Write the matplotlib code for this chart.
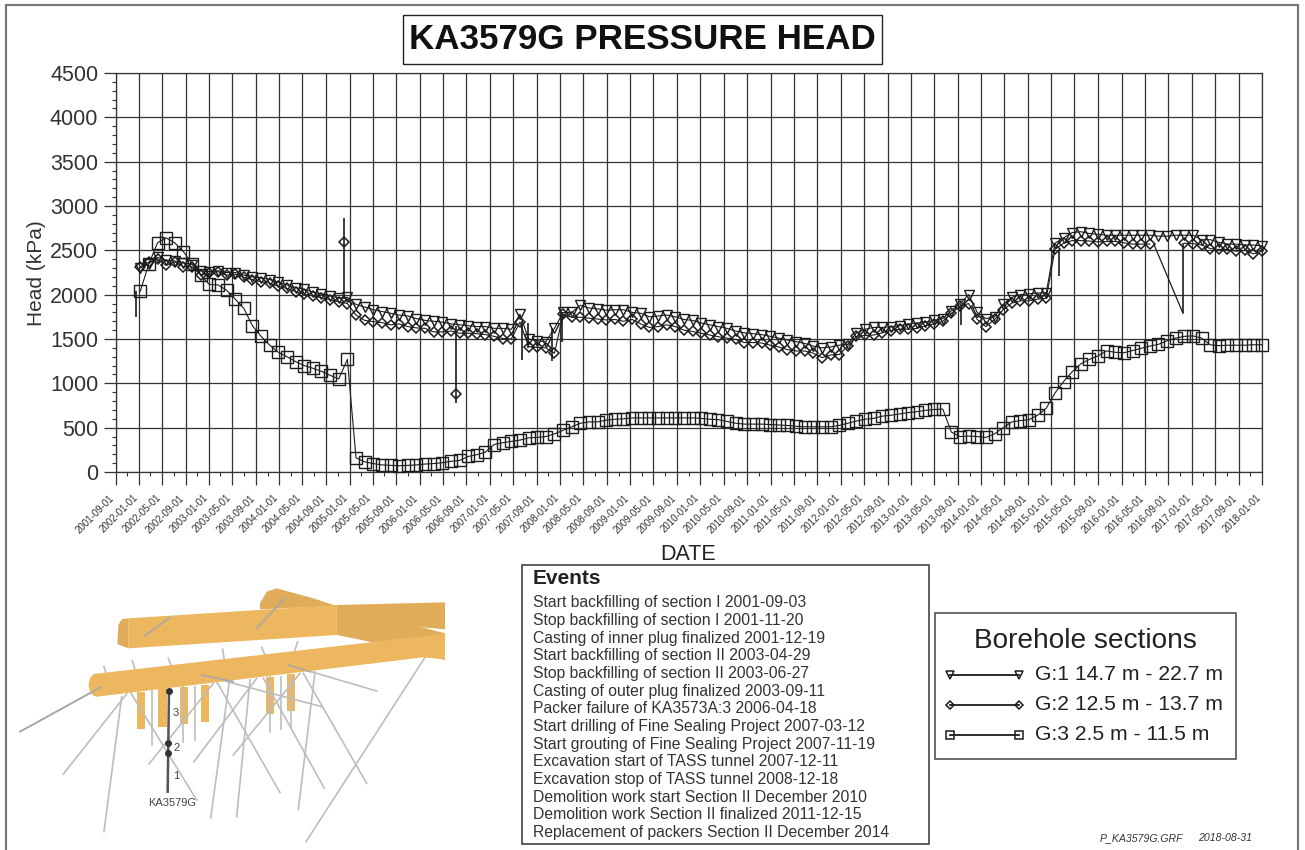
import matplotlib
matplotlib.use("Agg")
import matplotlib.pyplot as plt
from matplotlib.patches import Polygon, Rectangle, Ellipse
from matplotlib.ticker import MultipleLocator, NullFormatter
import matplotlib.dates as mdates
import numpy as np
import pandas as pd

plt.rcParams['font.family'] = ['Liberation Sans', 'DejaVu Sans']

# readings, one value per sample date
g1_values = [
    2300, 2350, 2420, 2390, 2380, 2360, 2340, 2270, 2260, 2270,
    2250, 2250, 2220, 2200, 2190, 2170, 2140, 2110, 2080, 2060,
    2030, 2010, 1990, 1960, 1970, 1890, 1860, 1830, 1810, 1790,
    1770, 1760, 1730, 1710, 1700, 1690, 1670, 1660, 1650, 1640,
    1640, 1620, 1620, 1610, 1780, 1500, 1480, 1470, 1620, 1800,
    1800, 1880, 1850, 1840, 1825, 1830, 1830, 1800, 1790, 1750,
    1760, 1770, 1750, 1720, 1710, 1680, 1660, 1640, 1620, 1590,
    1570, 1560, 1550, 1530, 1510, 1490, 1470, 1450, 1420, 1400,
    1410, 1430, 1440, 1570, 1610, 1630, 1630, 1640, 1650, 1670,
    1680, 1690, 1710, 1730, 1820, 1900, 2000, 1800, 1730, 1750,
    1890, 1970, 2000, 2010, 2020, 2020, 2580, 2640, 2700, 2710,
    2690, 2680, 2670, 2670, 2670, 2670, 2670, 2670, 2660, 2660,
    2670, 2670, 2670, 2620, 2620, 2590, 2570, 2570, 2560, 2560,
    2550,
]
g2_values = [
    2315, 2370, 2400, 2330, 2370, 2315, 2315, 2225, 2240, 2260,
    2220, 2230, 2195, 2170, 2145, 2130, 2095, 2070, 2035, 2005,
    1985, 1965, 1945, 1920, 1900, 1770, 1710, 1695, 1685, 1660,
    1670, 1640, 1625, 1620, 1580, 1580, 1590, 1565, 1565, 1560,
    1550, 1530, 1505, 1500, 1690, 1415, 1405, 1400, 1340, 1780,
    1745, 1745, 1735, 1725, 1715, 1720, 1700, 1720, 1670, 1630,
    1640, 1660, 1640, 1600, 1585, 1565, 1545, 1525, 1510, 1495,
    1460, 1460, 1455, 1430, 1410, 1380, 1365, 1365, 1340, 1290,
    1320, 1325, 1420, 1530, 1540, 1545, 1570, 1595, 1610, 1610,
    1620, 1650, 1670, 1700, 1790, 1870, 1900, 1720, 1640, 1720,
    1830, 1905, 1930, 1930, 1950, 1960, 2510, 2580, 2610, 2610,
    2605, 2595, 2600, 2600, 2585, 2570, 2570, 2570, np.nan, np.nan,
    np.nan, 2580, 2575, 2560, 2520, 2510, 2510, 2490, 2500, 2460,
    2490,
]
g3_values = [
    2040, 2350, 2585, 2640, 2585, 2485, 2350, 2220, 2115, 2110,
    2050, 1950, 1845, 1650, 1530, 1430, 1350, 1300, 1245, 1200,
    1170, 1135, 1090, 1050, 1270, 160, 115, 95, 80, 75,
    70, 75, 80, 90, 95, 105, 120, 130, 175, 195,
    225, 310, 330, 345, 360, 385, 390, 400, 430, 470,
    510, 550, 565, 565, 585, 595, 600, 610, 610, 610,
    610, 610, 610, 610, 610, 605, 595, 590, 570, 550,
    540, 540, 540, 535, 530, 525, 515, 510, 510, 510,
    510, 525, 550, 575, 595, 605, 630, 640, 655, 670,
    680, 695, 705, 710, 450, 400, 405, 400, 390, 430,
    500, 565, 580, 590, 640, 720, 890, 1020, 1130, 1220,
    1270, 1310, 1365, 1350, 1345, 1370, 1395, 1420, 1440, 1480,
    1510, 1530, 1535, 1510, 1435, 1425, 1430, 1430, 1430, 1435,
    1435,
]
sample_dates = pd.date_range('2002-01-08', '2018-01-01', periods=len(g1_values))

# short excursions between the samples: date, from, to
spike_dates = ['2001-12-17', '2004-12-04', '2006-07-10', '2007-06-18', '2007-07-19',
               '2007-11-21', '2008-01-12', '2013-09-20', '2015-02-08', '2016-11-16']
spike_low = [1750, 1950, 780, 1260, 1400, 1250, 1470, 1655, 2210, 1790]
spike_high = [2040, 2865, 1650, 1700, 1680, 1620, 1800, 1900, 2500, 2580]

g2_extra_dates = ['2004-12-04', '2006-07-10']
g2_extra_values = [2590, 875]
dip_dates = ['2016-06-17', '2016-11-16']
dip_values = [2570, 1790]

events = [
    'Start backfilling of section I 2001-09-03',
    'Stop backfilling of section I 2001-11-20',
    'Casting of inner plug finalized 2001-12-19',
    'Start backfilling of section II 2003-04-29',
    'Stop backfilling of section II 2003-06-27',
    'Casting of outer plug finalized 2003-09-11',
    'Packer failure of KA3573A:3 2006-04-18',
    'Start drilling of Fine Sealing Project 2007-03-12',
    'Start grouting of Fine Sealing Project 2007-11-19',
    'Excavation start of TASS tunnel 2007-12-11',
    'Excavation stop of TASS tunnel 2008-12-18',
    'Demolition work start Section II December 2010',
    'Demolition work Section II finalized 2011-12-15',
    'Replacement of packers Section II December 2014',
]
legend_labels = ['G:1 14.7 m - 22.7 m', 'G:2 12.5 m - 13.7 m', 'G:3 2.5 m - 11.5 m']
y_ticks = list(range(0, 5000, 500))
x_ticks = pd.date_range('2001-09-01', '2018-01-01', freq='4MS')

W, H = 1305, 850
fig = plt.figure(figsize=(W / 100, H / 100), dpi=100)
ax = fig.add_axes([115.5 / W, (H - 472) / H, (1262 - 115.5) / W, 399 / H])

line_col = '#1c1c1c'
ax.vlines(pd.to_datetime(spike_dates), spike_low, spike_high, color=line_col, lw=1.2, zorder=3)
ax.plot(pd.to_datetime(dip_dates), dip_values, color=line_col, lw=0.9, zorder=3)
ax.plot(sample_dates, g1_values, color=line_col, lw=0.8, marker='v', ms=6.5, mfc='none',
        mec=line_col, mew=1.0, clip_on=False, zorder=4)
ax.plot(sample_dates, g2_values, color=line_col, lw=0.8, marker='D', ms=5.3, mfc='none',
        mec=line_col, mew=1.1, clip_on=False, zorder=4)
ax.plot(pd.to_datetime(g2_extra_dates), g2_extra_values, ls='none', marker='D', ms=5.3, mfc='none',
        mec=line_col, mew=1.1, zorder=4)
ax.plot(sample_dates, g3_values, color=line_col, lw=0.8, marker='s', ms=8.3, mfc='none',
        mec=line_col, mew=1.0, clip_on=False, zorder=4)

ax.set_xlim(pd.Timestamp('2001-09-01'), pd.Timestamp('2018-01-01'))
ax.set_ylim(0, 4500)
ax.set_xticks(x_ticks)
ax.xaxis.set_major_formatter(NullFormatter())
# slanted date labels end a little left of and below their ticks
for d in x_ticks:
    ax.annotate(d.strftime('%Y-%m-%d'), xy=(d, 0), xycoords=('data', 'axes fraction'),
                xytext=(-4.5, -15), textcoords='offset points', rotation=45, ha='right', va='top',
                rotation_mode='anchor', fontsize=7, color='#333333', annotation_clip=False)
ax.xaxis.set_minor_locator(mdates.MonthLocator(bymonth=[3, 7, 11]))
ax.set_yticks(y_ticks)
ax.yaxis.set_minor_locator(MultipleLocator(100))
ax.tick_params(axis='y', labelsize=15.5, labelcolor='#333333', length=8.5, width=0.9, color='#333333', pad=4)
ax.tick_params(axis='x', length=9.5, width=0.9, color='#333333', pad=1)
ax.tick_params(which='minor', length=3, width=0.8, color='#333333')
ax.grid(True, color='#333333', lw=0.9)
ax.set_axisbelow(True)
for s in ax.spines.values():
    s.set_color('#333333')
    s.set_linewidth(0.9)

# page furniture drawn in pixel coordinates
ov = fig.add_axes([0, 0, 1, 1], facecolor='none')
ov.set_xlim(0, W)
ov.set_ylim(H, 0)
ov.axis('off')

ov.plot([6, 6, 1298, 1298], [H, 5, 5, H], color='#777777', lw=1.6)

ov.add_patch(Rectangle((403, 15), 479, 49, fc='white', ec='#222222', lw=1))
ov.text(642.5, 39, 'KA3579G PRESSURE HEAD', fontsize=25.2, fontweight='bold', ha='center', va='center', color='#111111')
ov.text(36, 273, 'Head (kPa)', fontsize=15, rotation=90, ha='center', va='center', color='#333333')
ov.text(688, 554, 'DATE', fontsize=15.5, ha='center', va='center', color='#222222')

# events box
ov.add_patch(Rectangle((522, 565), 407, 279, fc='white', ec='#333333', lw=1.1))
ov.text(533, 579, 'Events', fontsize=15, fontweight='bold', va='center', color='#222222')
for i, ev in enumerate(events):
    ov.text(533, 603 + i * 17.65, ev, fontsize=11.3, va='center', color='#333333')

# legend box
ov.add_patch(Rectangle((935, 613), 301, 146, fc='white', ec='#444444', lw=1.1))
ov.text(1085, 641, 'Borehole sections', fontsize=20.2, ha='center', va='center', color='#222222')
for label, mk, ms, y in zip(legend_labels, ['v', 'D', 's'], [6, 4.5, 6], [675, 705, 735]):
    ov.plot([950, 1019], [y, y], color=line_col, lw=1.3, marker=mk, ms=ms, mfc='none', mec=line_col, mew=1.1)
    ov.text(1035, y, label, fontsize=15.2, va='center', color='#222222')

ov.text(1100, 838, 'P_KA3579G.GRF', fontsize=7.6, style='italic', va='center', color='#333333')
ov.text(1198, 838, '2018-08-31', fontsize=7.6, style='italic', va='center', color='#333333')

# borehole sketch, coordinates taken from a 3x crop at (0, 570)
def px(points):
    return [(x / 3, 570 + y / 3) for x, y in points]

tunnel = '#EDB75F'
tunnel_dark = '#E0AC5A'
ov.add_patch(Polygon(px([(780, 100), (800, 65), (830, 55), (940, 85), (1010, 108), (780, 118)]), fc=tunnel_dark, ec='none'))
ov.add_patch(Polygon(px([(1010, 105), (1335, 97), (1335, 178), (1190, 165), (1010, 195)]), fc=tunnel_dark, ec='none'))
ov.add_patch(Polygon(px([(385, 145), (1010, 105), (1010, 195), (385, 235)]), fc=tunnel, ec='none'))
ov.add_patch(Polygon(px([(355, 165), (365, 148), (385, 145), (385, 235), (352, 222)]), fc=tunnel_dark, ec='none'))
ov.add_patch(Polygon(px([(1010, 105), (1335, 190), (1335, 270), (1085, 210), (1010, 195)]), fc=tunnel_dark, ec='none'))

for x0, y0, x1, y1 in [(410, 365, 435, 478), (475, 355, 500, 470), (540, 350, 565, 462),
                       (603, 345, 628, 455), (797, 320, 822, 432), (862, 312, 885, 424)]:
    ov.add_patch(Polygon(px([(x0, y0), (x1, y0), (x1, y1), (x0, y1)]), fc=tunnel, ec='none'))

rods = [(60, 485, 305, 350), (190, 612, 380, 372), (312, 785, 365, 380), (590, 690, 390, 365),
        (447, 582, 640, 340), (582, 575, 770, 325), (632, 745, 690, 320), (710, 740, 750, 330),
        (700, 555, 900, 310), (840, 668, 650, 335), (973, 655, 790, 325), (895, 718, 945, 305),
        (1100, 640, 910, 310), (918, 815, 1275, 262), (965, 410, 605, 315), (1130, 363, 865, 285),
        (455, 525, 455, 360), (550, 515, 550, 350), (585, 510, 585, 350), (810, 485, 810, 320),
        (842, 478, 842, 320), (873, 475, 873, 320), (312, 290, 320, 315), (397, 272, 405, 300),
        (505, 265, 515, 290), (668, 238, 672, 265), (785, 232, 795, 255), (893, 215, 885, 240)]
for x0, y0, x1, y1 in rods:
    (a, b), (c, d) = px([(x0, y0), (x1, y1)])
    ov.plot([a, c], [b, d], color='#BDBDBD', lw=1.2, zorder=2)

ov.add_patch(Polygon(px([(290, 311), (1260, 200), (1335, 190), (1335, 268),
                         (1270, 262), (290, 380)]), fc=tunnel, ec='none', zorder=3))
ov.add_patch(Ellipse((290 / 3, 570 + 345 / 3), 16, 23, angle=0, fc=tunnel, ec='none', zorder=3))
for x0, y0, x1, y1 in [(60, 485, 305, 350), (435, 197, 510, 142), (768, 177, 858, 82),
                       (605, 315, 700, 335), (865, 285, 930, 305)]:
    (a, b), (c, d) = px([(x0, y0), (x1, y1)])
    ov.plot([a, c], [b, d], color='#A8A8A8', lw=1.2, zorder=4)

(a, b), (c, d) = px([(507, 362), (503, 665)])
ov.plot([a, c], [b, d], color='#555555', lw=1.8, zorder=5)
for x, y in px([(507, 362), (505, 520), (503, 548)]):
    ov.plot([x], [y], 'o', color='#333333', ms=4, zorder=6)
for t, x, y in [('3', 528, 428), ('2', 530, 533), ('1', 528, 618), ('KA3579G', 517, 698)]:
    (tx, ty), = px([(x, y)])
    ov.text(tx, ty, t, fontsize=8, ha='center', va='center', color='#444444', zorder=6)

fig.savefig('out.png', dpi=100)
